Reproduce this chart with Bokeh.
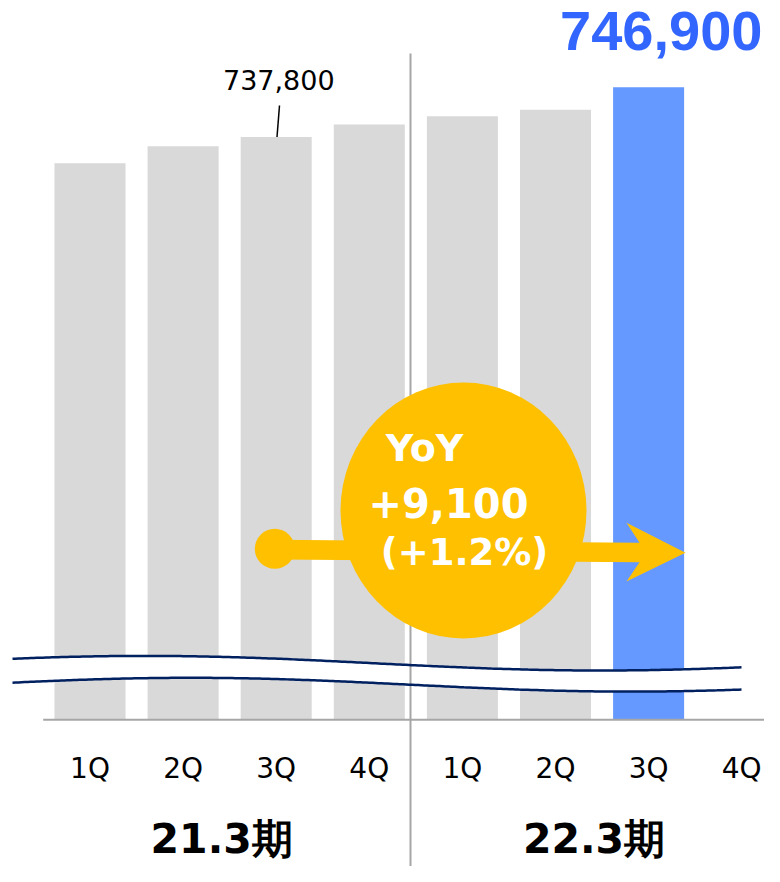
import numpy as np
from bokeh.plotting import figure
from bokeh.models import Range1d
from bokeh.core.properties import value
from bokeh.embed import file_html
from bokeh.resources import INLINE

# ---------------- data ----------------
periods = ["21.3期", "22.3期"]
quarters = ["1Q", "2Q", "3Q", "4Q"]
values_21 = [733000, 736100, 737800, 740100]
values_22 = [741600, 742800, 746900]          # 4Q not reported yet
yoy_title = "YoY"

prev_val = values_21[2]
curr_val = values_22[2]
diff = curr_val - prev_val
pct = diff / prev_val * 100

# ---------------- layout (pixels of the figure) ----------------
FIG_W, FIG_H = 764, 866
X_C0, X_STEP = 89.5, 93.1  # centre of first slot, slot pitch
BAR_W = 0.763
Y_REF_PX = 136.5           # px of the 3Q (21.3) bar top
UNITS_PER_PX = 182.7
BASE_PX = 718.5
BASELINE_FIX = 0.4         # rendered baseline sits this many em lower

GRAY = "#d9d9d9"
BLUE_BAR = "#6699ff"
BLUE_TXT = "#3366ff"
GOLD = "#ffc000"
NAVY = "#002060"
AXIS_GRAY = "#a6a6a6"


def px2x(px):
    return (np.asarray(px, dtype=float) - X_C0) / X_STEP


def py2y(py):
    return prev_val + (Y_REF_PX - np.asarray(py, dtype=float)) * UNITS_PER_PX


def base_y(py, size):
    return float(py2y(py - BASELINE_FIX * size))


p = figure(width=FIG_W, height=FIG_H,
           x_range=Range1d(float(px2x(0)), float(px2x(FIG_W))),
           y_range=Range1d(float(py2y(FIG_H)), float(py2y(0))),
           output_backend="svg", toolbar_location=None,
           x_axis_location=None, y_axis_location=None,
           min_border=0, outline_line_color=None)
p.grid.visible = False
p.background_fill_color = "white"
p.border_fill_color = "white"

# ---------------- bars ----------------
xs = list(range(len(values_21))) + [len(quarters) + i for i in range(len(values_22))]
tops = values_21 + values_22
colors = [GRAY] * (len(tops) - 1) + [BLUE_BAR]
base = float(py2y(BASE_PX))
p.vbar(x=xs, top=tops, bottom=base, width=BAR_W, fill_color=colors, line_color=None)

# ---------------- axis break (wavy band) ----------------
wx = np.linspace(12, 741, 240)
up = 662.7 + 7.3 * np.sin(np.pi * (wx - 145) / 455 - np.pi / 2)
lo = 684.2 + 6.9 * np.sin(np.pi * (wx - 190) / 440 - np.pi / 2)
p.patch(np.concatenate([px2x(wx), px2x(wx[::-1])]),
        np.concatenate([py2y(up), py2y(lo[::-1])]),
        fill_color="white", line_color=None)

# divider between fiscal years
p.segment(x0=[float(px2x(410))], y0=[float(py2y(53))],
          x1=[float(px2x(410))], y1=[float(py2y(FIG_H + 4))],
          line_color=AXIS_GRAY, line_width=2)

p.line(px2x(wx), py2y(up), line_color=NAVY, line_width=2.5)
p.line(px2x(wx), py2y(lo), line_color=NAVY, line_width=2.5)

# base axis line
p.segment(x0=[float(px2x(42.7))], y0=[float(py2y(719.3))],
          x1=[float(px2x(FIG_W + 4))], y1=[float(py2y(719.3))],
          line_color=AXIS_GRAY, line_width=2)

# ---------------- YoY bubble and arrow ----------------
p.ellipse(x=[float(px2x(463))], y=[float(py2y(510))], width=246, height=256,
          width_units="screen", height_units="screen",
          fill_color=GOLD, line_color=None)

arrow_px = [(274, 539.3), (639, 542.3), (626, 522.3), (685, 552.3),
            (626, 581), (639, 561.7), (274, 559)]
p.patch(px2x([a[0] for a in arrow_px]), py2y([a[1] for a in arrow_px]),
        fill_color=GOLD, line_color=None)
p.scatter(x=[float(px2x(274.3))], y=[float(py2y(548.3))], size=40,
          marker="circle", fill_color=GOLD, line_color=None)

DV = value("DejaVu Sans")
p.text(x=[float(px2x(424))], y=[base_y(463, 38)], text=[yoy_title],
       text_font=DV, text_font_style="bold", text_font_size=value("38px"),
       text_color="white", text_align="center", text_baseline="alphabetic")
p.text(x=[float(px2x(448))], y=[base_y(518, 40)], text=[f"+{diff:,}"],
       text_font=DV, text_font_style="bold", text_font_size=value("40px"),
       text_color="white", text_align="center", text_baseline="alphabetic")
p.text(x=[float(px2x(464))], y=[base_y(567, 37)], text=[f"(+{pct:.1f}%)"],
       text_font=DV, text_font_style="bold", text_font_size=value("37px"),
       text_color="white", text_align="center", text_baseline="alphabetic")

# ---------------- value labels ----------------
p.text(x=[float(px2x(278.3))], y=[base_y(90, 27)], text=[f"{prev_val:,}"],
       text_font=DV, text_font_size=value("27px"), text_color="black",
       text_align="center", text_baseline="alphabetic")
p.segment(x0=[float(px2x(279))], y0=[float(py2y(105))],
          x1=[float(px2x(276.5))], y1=[float(py2y(136.5))],
          line_color="black", line_width=1.5)

p.text(x=[float(px2x(762))], y=[base_y(53, 56)], text=[f"{curr_val:,}"],
       text_font=value("Liberation Sans"), text_font_style="bold",
       text_font_size=value("56px"), text_color=BLUE_TXT,
       text_align="right", text_baseline="alphabetic")

# ---------------- category labels ----------------
slot_x = list(range(len(quarters) * len(periods)))
p.text(x=slot_x, y=[base_y(779, 28)] * len(slot_x), text=quarters * len(periods),
       text_font=DV, text_font_size=value("28px"), text_color="black",
       text_align="center", text_baseline="alphabetic")

group_x = [(len(quarters) - 1) / 2 + g * len(quarters) for g in range(len(periods))]
p.text(x=group_x, y=[base_y(855, 41)] * len(periods), text=periods,
       x_offset=-8, text_font=DV, text_font_style="bold",
       text_font_size=value("41px"), text_color="black",
       text_align="center", text_baseline="alphabetic")

open("out.html", "w").write(file_html(p, INLINE))
